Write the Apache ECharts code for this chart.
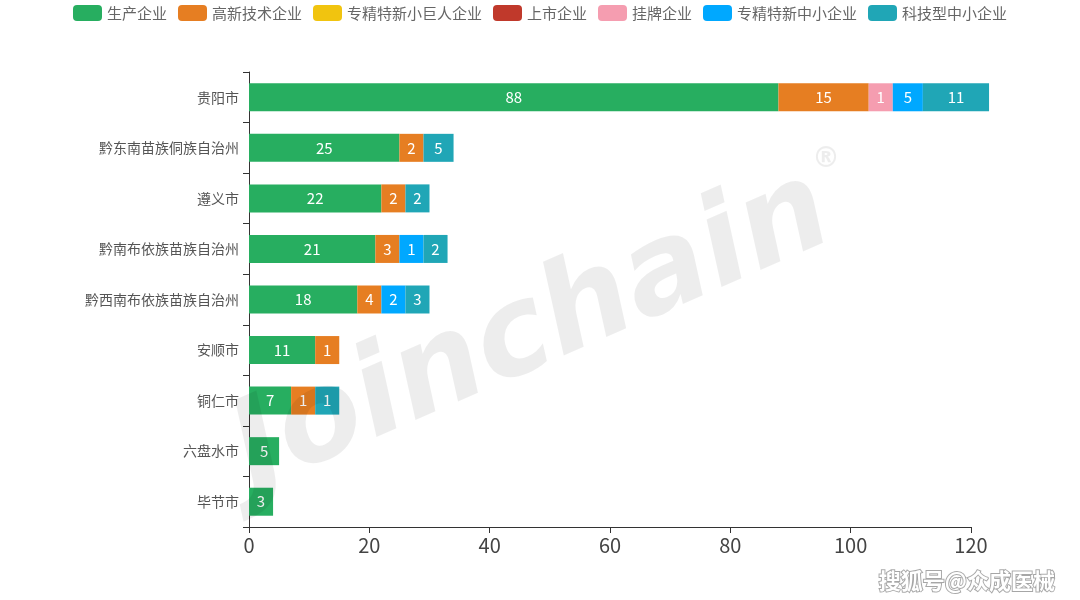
<!DOCTYPE html>
<html><head><meta charset="utf-8">
<script src="https://cdn.jsdelivr.net/npm/echarts@6/dist/echarts.min.js"></script>
<style>html,body{margin:0;padding:0;background:#fff}#c{width:1080px;height:600px}</style>
</head><body><div id="c"></div>
<script>
const categories = ['贵阳市','黔东南苗族侗族自治州','遵义市','黔南布依族苗族自治州','黔西南布依族苗族自治州','安顺市','铜仁市','六盘水市','毕节市'];
const seriesNames = ['生产企业','高新技术企业','专精特新小巨人企业','上市企业','挂牌企业','专精特新中小企业','科技型中小企业'];
const production = [88,25,22,21,18,11,7,5,3];
const highTech = [15,2,2,3,4,1,1,0,0];
const littleGiant = [0,0,0,0,0,0,0,0,0];
const listed = [0,0,0,0,0,0,0,0,0];
const quoted = [1,0,0,0,0,0,0,0,0];
const sme = [5,0,0,1,2,0,0,0,0];
const techSme = [11,5,2,2,3,0,1,0,0];
const xTicks = [0,20,40,60,80,100,120];
const colors = ['#27ae60','#e67e22','#f1c40f','#c0392b','#f59db0','#00a8ff','#20a6b6'];
const MIN_SHOWN = 4; // small segments are drawn with a minimum length, labelled with true value

const all = [production, highTech, littleGiant, listed, quoted, sme, techSme];
const chart = echarts.init(document.getElementById('c'));
const FONT = '"Noto Sans CJK SC", "Noto Sans", sans-serif';
chart.setOption({
  animation:false,
  textStyle:{fontFamily:FONT},
  color: colors,
  legend:{top:0,left:'center',itemWidth:29,itemHeight:16,itemGap:11,icon:'roundRect',
    textStyle:{color:'#666',fontSize:15,fontFamily:FONT},data:seriesNames},
  grid:{left:249,right:109,top:72,bottom:73,containLabel:false},
  xAxis:{type:'value',min:xTicks[0],max:xTicks[xTicks.length-1],interval:20,
    splitLine:{show:false},
    axisLine:{show:true,lineStyle:{color:'#333'}},
    axisTick:{show:true,length:6,lineStyle:{color:'#333'}},
    axisLabel:{color:'#444',fontSize:20,margin:8,fontFamily:FONT}},
  yAxis:{type:'category',data:categories,inverse:true,
    axisLine:{lineStyle:{color:'#333'}},
    axisTick:{show:true,length:6,lineStyle:{color:'#333'}},
    axisLabel:{color:'#555',fontSize:14,margin:10,fontFamily:FONT}},
  series: seriesNames.map((n,i)=>({
    name:n,type:'bar',stack:'total',barWidth:28,clip:false,
    data: all[i].map(v=> v>0 ? {value:Math.max(v,MIN_SHOWN), real:v} : '-'),
    label:{show:true,position:'inside',color:'#fff',fontSize:15,fontFamily:FONT,
      formatter:p=> p.data && p.data.real ? String(p.data.real) : ''}
  })),
  graphic:[
    {type:'text',left:215,top:150,rotation:0.41,z:100,silent:true,
      style:{text:'Joinchain',font:'italic bold 124px "DejaVu Sans", sans-serif',fill:'rgba(0,0,0,0.07)'}},
    {type:'text',left:812,top:146,z:100,silent:true,
      style:{text:'®',font:'bold 28px "DejaVu Sans", sans-serif',fill:'rgba(0,0,0,0.07)'}},
    {type:'text',right:24,bottom:7,z:100,silent:true,
      style:{text:'搜狐号@众成医械',font:'bold 22px "Noto Sans CJK SC", sans-serif',fill:'#fff',
        stroke:'rgba(0,0,0,0.35)',lineWidth:2,shadowBlur:4,shadowColor:'rgba(0,0,0,0.6)'}}
  ]
});
</script></body></html>
